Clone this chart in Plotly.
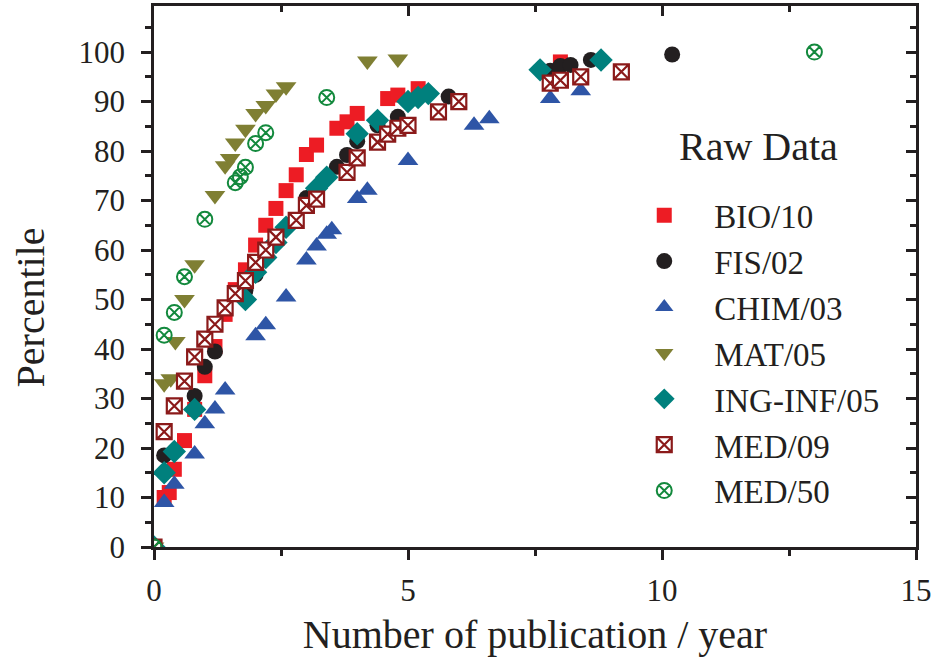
import plotly.graph_objects as go

# Percentile curves vs. publication rate for each scientific sector
BIO_X = [0, 0.2, 0.3, 0.4, 0.6, 0.8, 1.0, 1.2, 1.4, 1.6, 1.8, 2.0, 2.2, 2.4, 2.6, 2.8, 3.0, 3.2, 3.6, 3.8, 4.0, 4.6, 4.8, 5.2, 8.0]
BIO_Y = [0, 10, 11, 15.7, 21.5, 27.8, 34.6, 40.5, 47, 52, 56, 61, 65, 68.4, 72, 75.2, 79.3, 81.2, 84.6, 85.9, 87.6, 90.6, 91.3, 92.6, 98]

FIS_X = [0, 0.2, 0.8, 1.0, 1.2, 1.8, 2.0, 3.0, 3.6, 3.8, 4.0, 4.4, 4.8, 5.8, 7.8, 8.0, 8.2, 8.6, 10.2]
FIS_Y = [0, 18.5, 30.5, 36.4, 39.5, 51.8, 55, 70.5, 76.8, 79.2, 82, 85.2, 86.9, 91, 96.2, 97.2, 97.4, 98.4, 99.5]

CHIM_X = [0, 0.2, 0.4, 0.8, 1.0, 1.2, 1.4, 2.0, 2.2, 2.6, 3.0, 3.2, 3.4, 3.5, 4.0, 4.2, 5.0, 6.3, 6.6, 7.8, 8.4]
CHIM_Y = [0, 9, 12.7, 18.8, 24.9, 27.9, 31.7, 42.7, 44.9, 50.5, 58, 60.8, 63.2, 64.1, 70.4, 72.1, 78.1, 85.2, 86.5, 90.6, 92.2]

MAT_X = [0, 0.2, 0.33, 0.42, 0.6, 0.8, 1.2, 1.4, 1.5, 1.6, 1.8, 2.0, 2.2, 2.4, 2.6, 4.2, 4.8]
MAT_Y = [0, 33, 34, 41.5, 50, 57, 71, 77, 78.5, 81.6, 84.4, 87.6, 89.2, 91.5, 93, 98.2, 98.6]

ING_X = [0, 0.2, 0.4, 0.8, 1.8, 2.0, 2.2, 2.4, 2.6, 3.2, 3.4, 4.0, 4.4, 5.0, 5.2, 5.4, 7.6, 8.8]
ING_Y = [0, 15, 19.3, 27.8, 50, 55.5, 58.5, 61.5, 64.6, 72.5, 74.7, 83.5, 86.2, 90, 90.8, 91.6, 96.4, 98.4]

MED09_X = [0, 0.2, 0.4, 0.6, 0.8, 1.0, 1.2, 1.4, 1.6, 1.8, 2.0, 2.2, 2.4, 2.8, 3.0, 3.2, 3.8, 4.0, 4.4, 4.6, 4.8, 5.0, 5.6, 6.0, 7.8, 8.0, 8.4, 9.2]
MED09_Y = [0, 23.3, 28.5, 33.5, 38.4, 42, 45, 48.3, 51.2, 53.8, 57.5, 60, 62.6, 66, 69, 70.3, 75.7, 78.6, 81.8, 83.4, 84.6, 85.2, 87.9, 90, 93.7, 94.3, 95, 96]

MED50_X = [0, 0.2, 0.4, 0.6, 1.0, 1.6, 1.7, 1.8, 2.0, 2.2, 3.4, 13.0]
MED50_Y = [0, 42.8, 47.4, 54.6, 66.2, 73.6, 74.8, 76.7, 81.5, 83.7, 90.8, 100]

SERIES = [
    ("BIO/10", BIO_X, BIO_Y),
    ("FIS/02", FIS_X, FIS_Y),
    ("CHIM/03", CHIM_X, CHIM_Y),
    ("MAT/05", MAT_X, MAT_Y),
    ("ING-INF/05", ING_X, ING_Y),
    ("MED/09", MED09_X, MED09_Y),
    ("MED/50", MED50_X, MED50_Y),
]

MARKERS = {
    "BIO/10": dict(symbol="square", size=15, color="#ED1C24"),
    "FIS/02": dict(symbol="circle", size=16, color="#231F20"),
    "CHIM/03": dict(symbol="triangle-up", size=18, color="#2E55A6"),
    "MAT/05": dict(symbol="triangle-down", size=18, color="#7F7F33"),
    "ING-INF/05": dict(symbol="diamond", size=18, color="#00807D"),
    "MED/09": dict(symbol="square-x", size=15, color="white",
                   line=dict(color="#8B1A1A", width=2.2)),
    "MED/50": dict(symbol="circle-x-open", size=15, color="#13893D",
                   line=dict(color="#13893D", width=2)),
}

FONT = "Liberation Serif"
INK = "#231F20"

fig = go.Figure()
for i, (name, xs, ys) in enumerate(SERIES):
    fig.add_trace(go.Scatter(
        x=xs, y=ys, mode="markers", name=name,
        legendgroup=f"g{i}", marker=MARKERS[name],
    ))

# empty trace so the mirrored frame axes are drawn
fig.add_trace(go.Scatter(x=[], y=[], xaxis="x2", yaxis="y2", showlegend=False))

AX = dict(showline=True, linecolor=INK, linewidth=2.5, showgrid=False,
          zeroline=False, tickcolor=INK, tickwidth=2.5)

fig.update_layout(
    width=938, height=664,
    margin=dict(l=154, r=18, t=6, b=117),
    paper_bgcolor="white", plot_bgcolor="white",
    font=dict(family=FONT, color=INK),
    xaxis=dict(**AX, range=[0, 15], dtick=5, tick0=0, ticks="outside", ticklen=10,
               tickfont=dict(size=31, family=FONT), ticklabelstandoff=4,
               minor=dict(ticks="outside", dtick=2.5, ticklen=6, tickwidth=2.5, tickcolor=INK),
               title=dict(text="Number of publication / year", font=dict(size=40, family=FONT), standoff=14)),
    yaxis=dict(**AX, range=[0, 109.3], dtick=10, tick0=0, ticks="outside", ticklen=10,
               tickfont=dict(size=31, family=FONT), ticklabelstandoff=10,
               minor=dict(ticks="outside", dtick=5, ticklen=6, tickwidth=2.5, tickcolor=INK)),
    xaxis2=dict(**AX, overlaying="x", side="top", range=[0, 15], dtick=5, tick0=0,
                ticks="inside", ticklen=10, showticklabels=False,
                minor=dict(ticks="inside", dtick=2.5, ticklen=6, tickwidth=2.5, tickcolor=INK)),
    yaxis2=dict(**AX, overlaying="y", side="right", range=[0, 109.3], dtick=10, tick0=0,
                ticks="inside", ticklen=10, showticklabels=False,
                minor=dict(ticks="inside", dtick=5, ticklen=6, tickwidth=2.5, tickcolor=INK)),
    legend=dict(
        x=0.604, xanchor="left", y=0.665, yanchor="top",
        bgcolor="rgba(0,0,0,0)", borderwidth=0,
        font=dict(size=33, family=FONT),
        tracegroupgap=0, itemwidth=90,
    ),
    annotations=[
        dict(text="Percentile", xref="paper", yref="paper", x=-0.162, y=0.442,
             textangle=-90, showarrow=False, xanchor="center", yanchor="middle",
             font=dict(size=40, family=FONT, color=INK)),
        dict(text="Raw Data", xref="paper", yref="paper", x=0.793, y=0.74,
             showarrow=False, xanchor="center", yanchor="middle",
             font=dict(size=40, family=FONT, color=INK)),
    ],
)

fig.write_html("out.html")
